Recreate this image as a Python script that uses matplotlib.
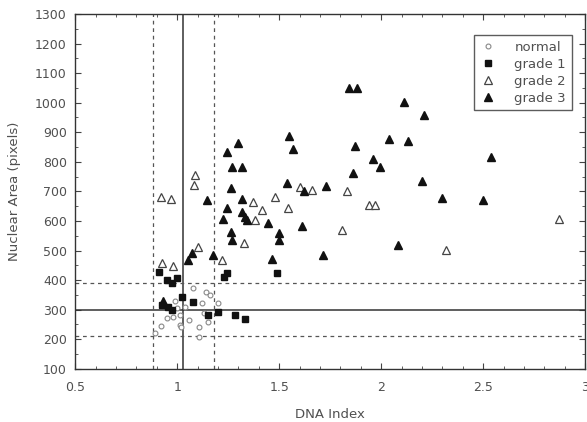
import matplotlib

matplotlib.use("Agg")
import matplotlib.pyplot as plt
from matplotlib.ticker import MultipleLocator, FuncFormatter

# reference lines
DNA_SOLID = 1.03
DNA_DASHED = [0.88, 1.18]
AREA_SOLID = 300
AREA_DASHED = [210, 390]

normal_x = [0.89, 0.92, 0.95, 0.98, 1.015, 1.02, 1.0, 1.04, 1.08, 1.105, 1.105,
            1.14, 1.16, 1.12, 1.15, 1.20, 1.13, 1.015, 1.06, 0.99]
normal_y = [221, 245, 272, 276, 249, 242, 306, 310, 372, 242, 209,
            361, 350, 323, 259, 323, 289, 283, 265, 330]

grade1_x = [0.91, 0.95, 0.975, 1.0, 1.024, 1.08, 0.925, 0.955, 0.975, 1.152,
            1.20, 1.284, 1.333, 1.23, 1.245, 1.49]
grade1_y = [428, 400, 390, 407, 343, 326, 316, 310, 300, 283,
            293, 283, 269, 410, 425, 425]

grade2_x = [0.92, 0.97, 1.083, 1.088, 0.925, 0.98, 1.10, 1.22, 1.33, 1.38,
            1.415, 1.37, 1.48, 1.545, 1.60, 1.66, 1.83, 1.94, 1.97, 1.81,
            2.32, 2.87]
grade2_y = [680, 675, 722, 756, 458, 446, 513, 468, 527, 604,
            638, 665, 680, 644, 715, 705, 702, 655, 655, 570,
            502, 607]

grade3_x = [1.84, 1.88, 2.11, 2.21, 1.55, 1.57, 1.30, 1.245, 1.27, 1.32,
            1.265, 1.54, 1.62, 1.73, 1.32, 1.245, 1.225, 1.32, 1.333, 1.34,
            1.446, 1.61, 1.265, 1.27, 1.50, 1.50, 1.177, 1.466, 1.716, 1.87,
            2.04, 2.13, 1.96, 1.995, 1.86, 2.20, 2.30, 2.08, 2.54, 2.50,
            1.147, 1.054, 1.073, 0.93]
grade3_y = [1050, 1050, 1003, 959, 888, 844, 864, 834, 783, 783,
            712, 729, 702, 718, 675, 644, 607, 631, 614, 604,
            593, 583, 563, 536, 559, 536, 485, 472, 485, 854,
            877, 871, 810, 783, 763, 735, 678, 519, 817, 671,
            671, 468, 492, 328]

plt.rcParams["font.family"] = ["DejaVu Sans"]
fig = plt.figure(figsize=(5.87, 4.22), dpi=100)
ax = fig.add_axes([0.128, 0.126, 0.869, 0.841])

text_color = "#505050"
ax.axvline(DNA_SOLID, color="#333333", linewidth=1.1)
ax.axhline(AREA_SOLID, color="#333333", linewidth=1.1)
for v in DNA_DASHED:
    ax.axvline(v, color="#555555", linewidth=0.9, linestyle=(0, (3, 3)))
for h in AREA_DASHED:
    ax.axhline(h, color="#555555", linewidth=0.9, linestyle=(0, (3, 3)))

ax.plot(normal_x, normal_y, linestyle="none", marker="o", markersize=3.5,
        markerfacecolor="white", markeredgecolor="#888888", markeredgewidth=0.8,
        label="normal")
ax.plot(grade1_x, grade1_y, linestyle="none", marker="s", markersize=4.5,
        color="#111111", label="grade 1")
ax.plot(grade2_x, grade2_y, linestyle="none", marker="^", markersize=5.5,
        markerfacecolor="white", markeredgecolor="#444444", markeredgewidth=0.9,
        label="grade 2")
ax.plot(grade3_x, grade3_y, linestyle="none", marker="^", markersize=6,
        color="#111111", label="grade 3")

ax.set_xlim(0.5, 3)
ax.set_ylim(100, 1300)
ax.xaxis.set_major_locator(MultipleLocator(0.5))
ax.xaxis.set_minor_locator(MultipleLocator(0.1))
ax.yaxis.set_major_locator(MultipleLocator(100))
ax.yaxis.set_minor_locator(MultipleLocator(50))
ax.xaxis.set_major_formatter(FuncFormatter(lambda v, p: f"{v:g}"))
ax.tick_params(which="both", direction="in", top=True, right=True,
               labelsize=9, labelcolor=text_color, color="#444444")
ax.tick_params(axis="x", which="major", pad=9)
ax.tick_params(axis="y", which="major", pad=6)
ax.tick_params(which="major", length=4)
ax.tick_params(which="minor", length=2)
for s in ax.spines.values():
    s.set_color("#333333")
    s.set_linewidth(1.0)

ax.set_xlabel("DNA Index", fontsize=9.5, color=text_color, labelpad=10)
ax.set_ylabel("Nuclear Area (pixels)", fontsize=9.5, color=text_color, labelpad=10)

leg = ax.legend(loc="upper right", fontsize=9.5, frameon=True, fancybox=False,
                edgecolor="#333333", handlelength=1.2, handletextpad=1.4,
                borderpad=0.45, labelspacing=0.3, bbox_to_anchor=(0.987, 0.96))
for t in leg.get_texts():
    t.set_color(text_color)

fig.savefig("out.png", dpi=100)
